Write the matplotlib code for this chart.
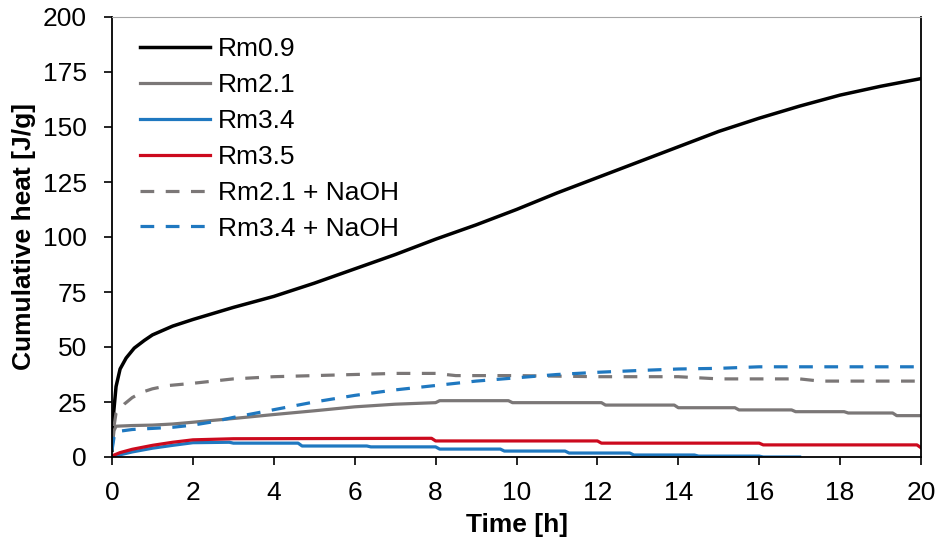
import matplotlib
matplotlib.use("Agg")
import matplotlib.pyplot as plt

plt.rcParams["font.family"] = ["Liberation Sans", "DejaVu Sans"]

# Rm0.9
t_rm09 = [0, 0.03, 0.1, 0.2, 0.35, 0.55, 0.8, 1.0, 1.5, 2, 3, 4, 5, 6, 7, 8,
          9, 10, 11, 12, 13, 14, 15, 16, 17, 18, 19, 20]
q_rm09 = [3, 18, 32, 40, 45, 49.5, 53, 55.5, 59.5, 62.5, 68, 73, 79, 85.5, 92, 99,
          105.5, 112.5, 120, 127, 134, 141, 148, 154, 159.5, 164.5, 168.5, 172]

# Rm2.1
t_rm21 = [0, 0.05, 0.1, 0.5, 1, 1.5, 2, 3, 4, 5, 6, 7, 8, 8.1, 9.8, 9.9,
          12.1, 12.2, 13.9, 14.0, 15.4, 15.5, 16.8, 16.9, 18.1, 18.2, 19.3, 19.4, 20]
q_rm21 = [4, 12, 14, 14.3, 14.5, 15, 15.8, 17.5, 19.3, 21, 22.8, 24, 24.7, 25.6, 25.6, 24.7,
          24.7, 23.6, 23.6, 22.4, 22.4, 21.4, 21.4, 20.6, 20.6, 20, 20, 18.8, 18.8]

# Rm3.4
t_rm34 = [0, 0.2, 0.5, 1, 1.5, 2, 2.9, 3.0, 4.6, 4.7, 6.3, 6.4, 8.0, 8.1, 9.6, 9.7,
          11.2, 11.3, 12.8, 12.9, 14.4, 14.5, 16.0, 16.1, 17]
q_rm34 = [0, 1.0, 2.3, 4.0, 5.3, 6.5, 6.7, 6.3, 6.3, 5.0, 5.0, 4.6, 4.6, 3.6, 3.6, 2.7,
          2.7, 1.8, 1.8, 0.9, 0.9, 0.4, 0.4, 0, 0]

# Rm3.5
t_rm35 = [0, 0.2, 0.5, 1, 1.5, 2, 3, 7.9, 8.0, 12.0, 12.1, 16.0, 16.1, 19.9, 20]
q_rm35 = [0.5, 2, 3.5, 5.3, 6.7, 7.8, 8.3, 8.5, 7.3, 7.3, 6.3, 6.3, 5.5, 5.5, 4.2]

# Rm2.1 + NaOH
t_rm21n = [0.05, 0.1, 0.3, 0.5, 0.75, 1.0, 1.4, 2, 3, 4, 5, 6, 7, 8, 8.5,
           10, 12, 14, 15, 17, 17.5, 20]
q_rm21n = [14, 20, 24, 27, 29.5, 31, 32.5, 33.5, 35.5, 36.5, 37, 37.5, 38, 38, 37,
           37, 36.5, 36.5, 35.5, 35.5, 34.5, 34.5]

# Rm3.4 + NaOH
t_rm34n = [0, 0.05, 0.1, 0.5, 1, 1.5, 2, 2.5, 3, 4, 5, 6, 7, 8, 9, 10, 11, 12,
           13, 14, 15, 16, 20]
q_rm34n = [3, 9, 11.5, 12.5, 13, 13.5, 14.5, 16, 18, 21.5, 25, 28, 30.5, 32.5, 34.5, 36, 37.5, 38.5,
           39.3, 40, 40.3, 41, 41]

GRAY = "#7b7777"
BLUE = "#1f78c0"
RED = "#cc0a1e"
FS = 19

fig = plt.figure(figsize=(9.38, 5.43), dpi=100)
ax = fig.add_axes([112 / 938, 1 - 457 / 543, 809 / 938, 440 / 543])

lw = 2.3
dash = (0, (4.3, 3.6))
ax.plot(t_rm09, q_rm09, color="black", lw=2.5, label="Rm0.9")
ax.plot(t_rm21, q_rm21, color=GRAY, lw=lw, label="Rm2.1")
ax.plot(t_rm34, q_rm34, color=BLUE, lw=lw, label="Rm3.4")
ax.plot(t_rm35, q_rm35, color=RED, lw=lw, label="Rm3.5")
ax.plot(t_rm21n, q_rm21n, color=GRAY, lw=lw, ls=dash, label="Rm2.1 + NaOH")
ax.plot(t_rm34n, q_rm34n, color=BLUE, lw=lw, ls=dash, label="Rm3.4 + NaOH")

ax.set_xlim(0, 20)
ax.set_ylim(0, 200)
ax.set_xticks(range(0, 21, 2))
ax.set_yticks(range(0, 201, 25))
ax.tick_params(direction="out", length=6, width=1.2, labelsize=FS)
ax.tick_params(axis="y", pad=12)
ax.tick_params(axis="x", pad=11)

for s in ("left", "bottom", "right"):
    ax.spines[s].set_color("black")
    ax.spines[s].set_linewidth(1.3)
ax.spines["top"].set_color("#a6a6a6")
ax.spines["top"].set_linewidth(0.8)

ax.set_xlabel("Time [h]", fontsize=FS, fontweight="bold", labelpad=6)
ax.set_ylabel("Cumulative heat [J/g]", fontsize=FS, fontweight="bold", labelpad=5)

ax.legend(loc="upper left", bbox_to_anchor=(0.0346, 0.954), frameon=False,
          fontsize=FS, handlelength=2.65, handletextpad=0.3, labelspacing=0.45,
          borderpad=0, borderaxespad=0)

fig.savefig("out.png", dpi=100)
